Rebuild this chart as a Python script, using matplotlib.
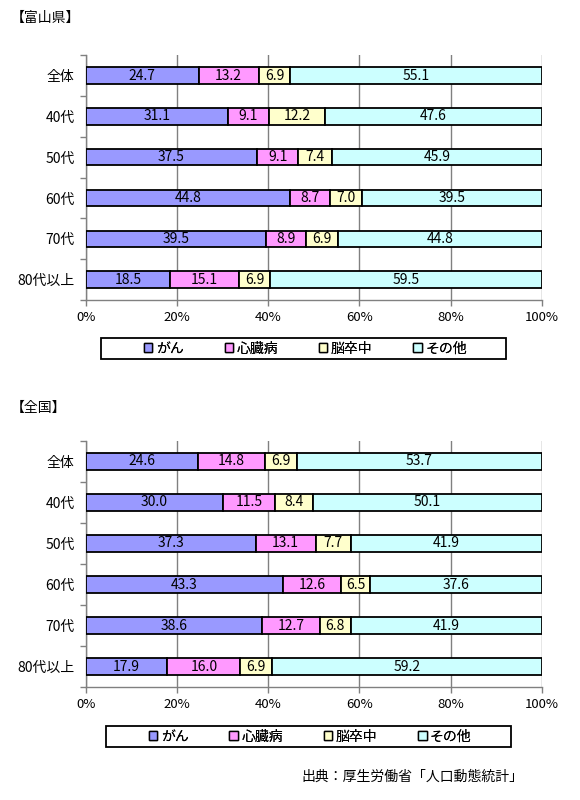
import numpy as np
import matplotlib
matplotlib.use('Agg')
import matplotlib.pyplot as plt
from matplotlib.patches import Patch, Rectangle

plt.rcParams['font.family'] = ['Noto Sans CJK JP', 'DejaVu Sans']

categories = ['全体', '40代', '50代', '60代', '70代', '80代以上']
series = ['がん', '心臓病', '脳卒中', 'その他']
colors = ['#9999FF', '#FF99FF', '#FFFFCC', '#CCFFFF']

toyama_gan = [24.7, 31.1, 37.5, 44.8, 39.5, 18.5]
toyama_heart = [13.2, 9.1, 9.1, 8.7, 8.9, 15.1]
toyama_stroke = [6.9, 12.2, 7.4, 7.0, 6.9, 6.9]
toyama_other = [55.1, 47.6, 45.9, 39.5, 44.8, 59.5]

zenkoku_gan = [24.6, 30.0, 37.3, 43.3, 38.6, 17.9]
zenkoku_heart = [14.8, 11.5, 13.1, 12.6, 12.7, 16.0]
zenkoku_stroke = [6.9, 8.4, 7.7, 6.5, 6.8, 6.9]
zenkoku_other = [53.7, 50.1, 41.9, 37.6, 41.9, 59.2]

xticks = [0, 20, 40, 60, 80, 100]
xticklabels = ['0%', '20%', '40%', '60%', '80%', '100%']


def draw(ax, data):
    vals = np.array(data, dtype=float)
    totals = vals.sum(axis=0)
    pct = vals / totals * 100
    y = np.arange(len(categories))
    left = np.zeros(len(categories))
    for i in range(len(series)):
        ax.barh(y, pct[i], left=left, height=0.4, color=colors[i],
                edgecolor='black', linewidth=1.3, zorder=3)
        for j in range(len(categories)):
            ax.text(left[j] + pct[i][j] / 2, y[j], '%.1f' % vals[i][j],
                    ha='center', va='center', fontsize=10, zorder=4)
        left += pct[i]
    ax.set_xlim(0, 100)
    ax.set_ylim(len(categories) - 0.5, -0.5)
    ax.set_yticks(y)
    ax.set_yticklabels(categories, fontsize=10)
    ax.set_yticks(np.arange(-0.5, len(categories)), minor=True)
    ax.tick_params(axis='y', which='major', length=0, pad=8)
    ax.tick_params(axis='y', which='minor', length=4, color='#808080', width=1)
    ax.set_xticks(xticks)
    ax.set_xticklabels(xticklabels, fontsize=9.5)
    ax.tick_params(axis='x', length=4, color='#808080', width=1, pad=4)
    ax.grid(axis='x', color='#808080', linewidth=1, zorder=0)
    for s in ['top', 'right']:
        ax.spines[s].set_visible(False)
    for s in ['left', 'bottom']:
        ax.spines[s].set_color('#808080')
        ax.spines[s].set_linewidth(1)


fig = plt.figure(figsize=(5.8, 8), dpi=100)

ax1 = fig.add_axes([0.148, 0.625, 0.786, 0.306])
draw(ax1, [toyama_gan, toyama_heart, toyama_stroke, toyama_other])
ax2 = fig.add_axes([0.148, 0.141, 0.786, 0.308])
draw(ax2, [zenkoku_gan, zenkoku_heart, zenkoku_stroke, zenkoku_other])

fig.text(0.018, 0.977, '【富山県】', fontsize=10, va='center')
fig.text(0.018, 0.49, '【全国】', fontsize=10, va='center')

handles = [Patch(facecolor=c, edgecolor='black', linewidth=1) for c in colors]
# legend boxes: (x0, y0, w, h) in figure fraction
for box in [(0.174, 0.551, 0.699, 0.0265), (0.183, 0.066, 0.698, 0.0265)]:
    x0, y0, w, h = box
    fig.add_artist(Rectangle((x0, y0), w, h, transform=fig.transFigure,
                             facecolor='white', edgecolor='black', linewidth=1.3))
    leg = fig.legend(handles, series, loc='center',
                     bbox_to_anchor=(x0 + w / 2 + 0.003, y0 + h / 2),
                     ncol=4, frameon=False, fontsize=10,
                     handlelength=0.6, handleheight=0.6, handletextpad=0.25,
                     columnspacing=2.95, borderpad=0.1)
    fig.add_artist(leg)

fig.text(0.903, 0.029, '出典：厚生労働省「人口動態統計」', fontsize=10,
         ha='right', va='center')

fig.savefig('out.png', dpi=100, facecolor='white')
